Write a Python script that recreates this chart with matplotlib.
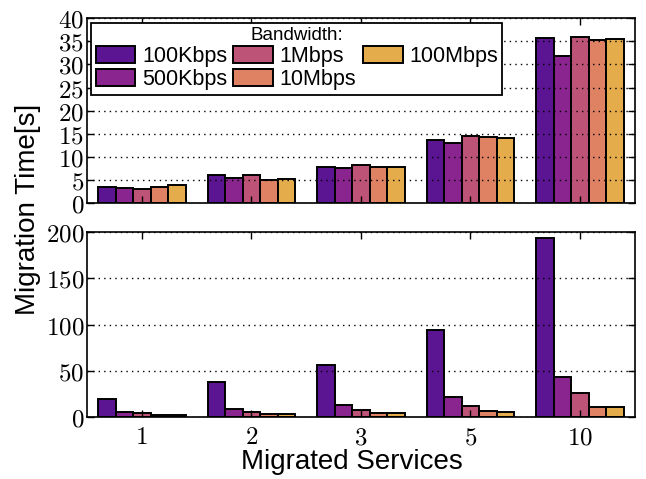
import numpy as np
import matplotlib
matplotlib.use('Agg')
import matplotlib.pyplot as plt

plt.rcParams['mathtext.fontset'] = 'cm'
plt.rcParams['font.family'] = ['Liberation Sans', 'DejaVu Sans']

# data
services = ['1', '2', '3', '5', '10']
bandwidths = ['100Kbps', '500Kbps', '1Mbps', '10Mbps', '100Mbps']
colors = ['#5b1592', '#8a2590', '#bd5478', '#de8263', '#e5ac4b']

# top panel (zoomed scale)
top_100k = [3.5, 6.0, 7.8, 13.6, 35.8]
top_500k = [3.2, 5.4, 7.5, 13.0, 31.9]
top_1m = [3.0, 6.0, 8.2, 14.6, 35.9]
top_10m = [3.5, 5.0, 7.9, 14.4, 35.2]
top_100m = [3.9, 5.3, 7.9, 14.1, 35.5]

# bottom panel (full scale)
bot_100k = [19.1, 37.5, 55.9, 94.0, 193.9]
bot_500k = [5.0, 8.3, 13.0, 21.3, 42.9]
bot_1m = [4.0, 5.8, 7.6, 12.3, 25.6]
bot_10m = [2.5, 3.6, 4.7, 6.3, 10.8]
bot_100m = [2.5, 3.6, 4.3, 5.8, 10.5]

top_series = [top_100k, top_500k, top_1m, top_10m, top_100m]
bot_series = [bot_100k, bot_500k, bot_1m, bot_10m, bot_100m]

fig = plt.figure(figsize=(6.46, 4.79), dpi=100)
ax_top = fig.add_axes([0.1347, 0.576, 0.848, 0.386])
ax_bot = fig.add_axes([0.1347, 0.1294, 0.848, 0.386])

x = np.arange(len(services))
w = 0.16


def draw(ax, series, yticks, ymax):
    for i, (vals, col, lab) in enumerate(zip(series, colors, bandwidths)):
        ax.bar(x + (i - 2) * w, vals, w, color=col, edgecolor='black',
               linewidth=1.4, label=lab, zorder=2)
    ax.set_xlim(-0.5, len(services) - 0.5)
    ax.set_ylim(0, ymax)
    ax.set_yticks(yticks)
    ax.set_yticklabels([f'${v}$' for v in yticks], fontsize=18)
    ax.set_xticks(x)
    ax.yaxis.grid(True, linestyle=(0, (1, 3)), color='black', linewidth=1.0,
                  zorder=3)
    ax.set_axisbelow(False)
    ax.tick_params(direction='in', top=True, right=True, length=5,
                   width=1.0, pad=2)
    for sp in ax.spines.values():
        sp.set_linewidth(1.2)


draw(ax_top, top_series, list(range(0, 41, 5)), 40)
ax_top.set_xticklabels([])
draw(ax_bot, bot_series, [0, 50, 100, 150, 200], 200)
ax_bot.set_xticklabels([f'${s}$' for s in services], fontsize=18)
ax_bot.tick_params(axis='x', pad=6)

leg = ax_top.legend(loc='upper left', ncol=3, title='Bandwidth:',
                    fontsize=15.5, title_fontsize=13.5, frameon=True,
                    fancybox=False, borderaxespad=0.2, borderpad=0.2,
                    handlelength=1.85, handleheight=0.85, handletextpad=0.3,
                    columnspacing=0.3, labelspacing=0.1)
leg.get_frame().set_edgecolor('black')
leg.get_frame().set_linewidth(1.3)
leg.get_frame().set_alpha(1)
leg.set_zorder(5)

fig.text(0.043, 0.563, 'Migration Time[s]', rotation=90, fontsize=20,
         ha='center', va='center')
fig.text(0.545, 0.035, 'Migrated Services', fontsize=20,
         ha='center', va='center')

fig.savefig('out.png', dpi=100)
